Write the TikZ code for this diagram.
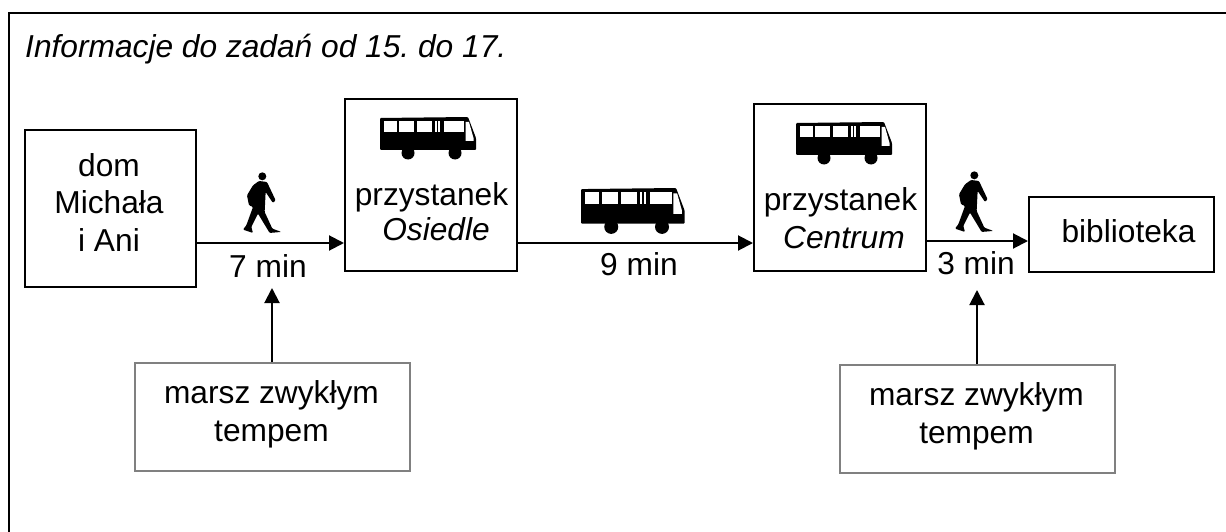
\documentclass[tikz,border=0pt]{standalone}
\usepackage{fontspec}
\setmainfont{Liberation Sans}
\usetikzlibrary{arrows.meta}
\tikzset{
    boxblack/.style={draw=black,line width=2pt,inner sep=0pt},
    boxgray/.style={draw=black!50,line width=2pt,inner sep=0pt,minimum width=275pt,minimum height=108pt},
    txt/.style={inner sep=0pt,align=center,anchor=base},
    conn/.style={line width=2pt,-{Triangle[length=15pt,width=15pt]}},
    bus/.pic={
        \fill[rounded corners=1pt] (0,1) -- (88,0) -- (96,21) -- (96,33) -- (0,33) -- cycle;
        \fill (28,36) circle (6.5);
        \fill (75,36) circle (6.5);
        \fill[white] (4,4) rectangle (17,15);
        \fill[white] (19,4) rectangle (34,15);
        \fill[white] (37,4) rectangle (52,15);
        \fill[white] (55,4) rectangle (56.5,15);
        \fill[white] (58,4) rectangle (60,15);
        \fill[white] (64,4) rectangle (84,15);
        \fill[white] (85.5,5) -- (89,5) -- (93.5,21) -- (93.5,24) -- (85.5,24) -- cycle;
    },
    walker/.pic={
        \fill (58,13) circle (12);
        \fill[rounded corners=1pt] (48,27) -- (72,30) -- (98,85) -- (90,93) -- (68,60) -- (65,120)
            -- (88,170) -- (115,180) -- (80,183) -- (45,125) -- (25,165) -- (30,183) -- (0,173)
            -- (10,160) -- (30,105) -- (18,100) -- (12,70) -- (30,40) -- cycle;
    }
}
\frenchspacing
\begin{document}
\begin{tikzpicture}[x=1pt,y=-1pt,font=\fontsize{31.7}{37.5}\selectfont]
    \useasboundingbox (0,0) rectangle (1226,532);
    \draw[line width=2.2pt] (9,532) -- (9,13) -- (1226,13);
    \node[txt,anchor=base west,font=\fontsize{31.7}{37.5}\selectfont\itshape] (title) at (25,58) {Informacje do zadań od 15. do 17.};
    % boxes
    \node[boxblack,minimum width=171pt,minimum height=157pt] (dom) at (110.5,208.5) {};
    \node[boxblack,minimum width=172pt,minimum height=172pt] (osiedle) at (431,185) {};
    \node[boxblack,minimum width=172pt,minimum height=167pt] (centrum) at (840,187.5) {};
    \node[boxblack,minimum width=185pt,minimum height=75pt] (biblioteka) at (1121.5,234.5) {};
    \node[boxgray] (marsza) at (272,417) {};
    \node[boxgray] (marszb) at (977,419) {};
    % texts
    \node[txt] (domtxt) at (109,251) {dom\\Michała\\i Ani};
    \node[txt] (osiedletxt) at (431.5,240) {przystanek\\[-2.5pt]\hspace*{9pt}\textit{Osiedle}};
    \node[txt] (centrumtxt) at (840.5,248) {przystanek\\\hspace*{7pt}\textit{Centrum}};
    \node[txt] (bibliotekatxt) at (1128.5,242) {biblioteka};
    \node[txt] (marszatxt) at (271.5,441) {marsz zwykłym\\tempem};
    \node[txt] (marszbtxt) at (976.5,443) {marsz zwykłym\\tempem};
    % times
    \node[txt] (ta) at (268,277) {7 min};
    \node[txt] (tb) at (639,275) {9 min};
    \node[txt] (tc) at (976,274) {3 min};
    % icons
    \pic at (380,117) {bus};
    \pic[scale=1.08] at (581,188) {bus};
    \pic at (796,122) {bus};
    \pic[scale=.333] at (243,172) {walker};
    \pic[scale=.333] at (955,171) {walker};
    % arrows
    \coordinate (a) at (272,288);
    \coordinate (b) at (977,290);
    \draw[conn] ([yshift=-34.5pt]dom.east) -- ([yshift=-58pt]osiedle.west);
    \draw[conn] ([yshift=-58pt]osiedle.east) -- ([yshift=-55.5pt]centrum.west);
    \draw[conn] ([yshift=-6.5pt]biblioteka.west -| centrum.east) -- ([yshift=-6.5pt]biblioteka.west);
    \draw[conn] (marsza.north) -- (a);
    \draw[conn] (marszb.north) -- (b);
\end{tikzpicture}
\end{document}
